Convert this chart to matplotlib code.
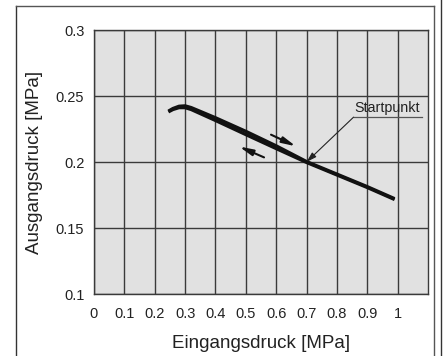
import matplotlib
matplotlib.use("Agg")
import matplotlib.pyplot as plt
from matplotlib.lines import Line2D

plt.rcParams['font.family'] = ['Liberation Sans', 'DejaVu Sans']

# Data
x_upper = [0.245, 0.26, 0.28, 0.30, 0.32, 0.40, 0.50, 0.60, 0.70, 0.80, 0.90, 0.99]
y_upper = [0.2385, 0.2405, 0.2422, 0.2425, 0.2412, 0.2335, 0.2232, 0.2122, 0.2003, 0.1908, 0.1813, 0.1722]
x_lower = [0.245, 0.26, 0.28, 0.30, 0.32, 0.40, 0.50, 0.60, 0.70, 0.80, 0.90, 0.99]
y_lower = [0.2380, 0.2398, 0.2412, 0.2412, 0.2398, 0.2315, 0.2208, 0.2102, 0.1997, 0.1902, 0.1807, 0.1716]
x_ticks = [0, 0.1, 0.2, 0.3, 0.4, 0.5, 0.6, 0.7, 0.8, 0.9, 1]
x_ticklabels = ["0", "0.1", "0.2", "0.3", "0.4", "0.5", "0.6", "0.7", "0.8", "0.9", "1"]
y_ticks = [0.1, 0.15, 0.2, 0.25, 0.3]
y_ticklabels = ["0.1", "0.15", "0.2", "0.25", "0.3"]
start_point = (0.7, 0.2)

fig = plt.figure(figsize=(4.45, 3.56), dpi=100)
ax = fig.add_axes([94/445, 1-294/356, (428-94)/445, (294-30)/356])
ax.set_facecolor('#e1e1e1')
ax.set_xlim(0, 1.1)
ax.set_ylim(0.1, 0.3)

ax.set_xticks(x_ticks)
ax.set_xticklabels(x_ticklabels, fontsize=10.5, color='#222222')
ax.set_yticks(y_ticks)
ax.set_yticklabels(y_ticklabels, fontsize=10.5, color='#222222')
ax.tick_params(axis='x', length=0, pad=9)
ax.tick_params(axis='y', length=0, pad=7)
ax.grid(True, color='#3a3a3a', linewidth=1.0)
ax.set_axisbelow(True)
for s in ax.spines.values():
    s.set_color('#3a3a3a')
    s.set_linewidth(1.0)

ax.plot(x_upper, y_upper, color='#111111', linewidth=2.4, solid_capstyle='butt', zorder=3)
ax.plot(x_lower, y_lower, color='#111111', linewidth=2.4, solid_capstyle='butt', zorder=3)

# Direction arrows
ax.annotate('', xy=(0.665, 0.2119), xytext=(0.583, 0.2207),
            arrowprops=dict(arrowstyle='-|>,head_length=0.8,head_width=0.18', color='#111111', lw=1.5,
                            shrinkA=0, shrinkB=0))
ax.annotate('', xy=(0.478, 0.2117), xytext=(0.56, 0.2035),
            arrowprops=dict(arrowstyle='-|>,head_length=0.8,head_width=0.18', color='#111111', lw=1.5,
                            shrinkA=0, shrinkB=0))

# Startpunkt annotation
ax.annotate('', xy=start_point, xytext=(0.855, 0.234),
            arrowprops=dict(arrowstyle='-|>,head_length=0.6,head_width=0.18', color='#222222', lw=0.8,
                            shrinkA=0, shrinkB=0))
ax.plot([0.855, 1.079], [0.234, 0.234], color='#555555', lw=0.9)
ax.text(0.965, 0.2355, 'Startpunkt', fontsize=10.3, ha='center', va='bottom', color='#222222')

ax.set_xlabel('Eingangsdruck [MPa]', fontsize=13.5, color='#222222', va='center')
ax.set_ylabel('Ausgangsdruck [MPa]', fontsize=13.5, color='#222222', va='center')
ax.xaxis.set_label_coords(0.5, (13 - 62) / 264)
ax.yaxis.set_label_coords((35 - 94) / 334, 0.5)

# Outer frame
fig.add_artist(Line2D([16/445, 16/445], [0, 1-6/356], transform=fig.transFigure, color='#333333', lw=1.0))
fig.add_artist(Line2D([16/445, 434/445], [1-6/356, 1-6/356], transform=fig.transFigure, color='#555555', lw=1.0))
fig.add_artist(Line2D([434/445, 434/445], [0, 1-6/356], transform=fig.transFigure, color='#555555', lw=1.0))
fig.add_artist(Line2D([441/445, 441/445], [0, 1], transform=fig.transFigure, color='#333333', lw=1.0))

fig.savefig('out.png', dpi=100)
